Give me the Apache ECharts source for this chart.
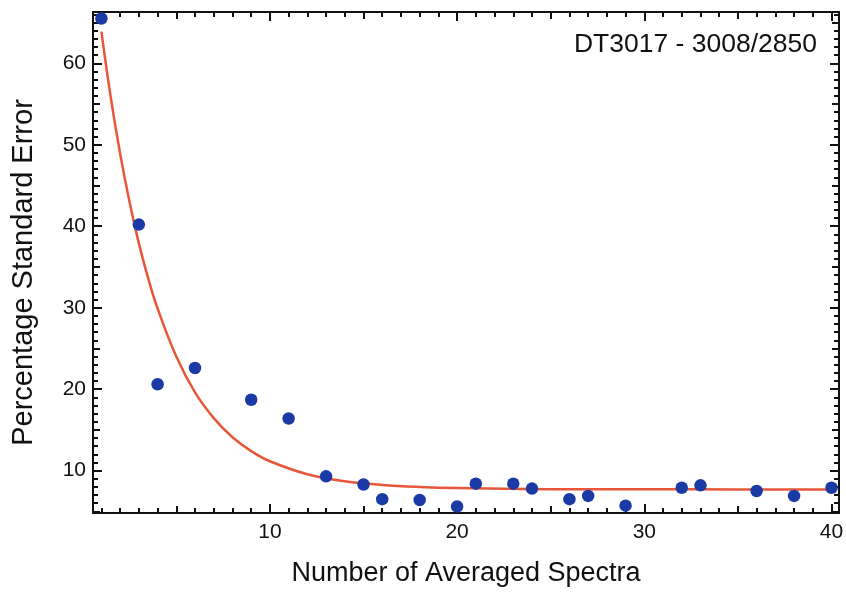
<!DOCTYPE html>
<html><head><meta charset="utf-8">
<script src="https://cdn.jsdelivr.net/npm/echarts@6/dist/echarts.min.js"></script>
<style>html,body{margin:0;padding:0;background:#fff}#c{width:846px;height:592px}</style>
</head><body><div id="c"></div>
<script>
const chartTitle = 'DT3017 - 3008/2850';
const xName = 'Number of Averaged Spectra';
const yName = 'Percentage Standard Error';

// measured points
const spectraCount = [1, 3, 4, 6, 9, 11, 13, 15, 16, 18, 20, 21, 23, 24, 26, 27, 29, 32, 33, 36, 38, 40];
const stdError = [65.5, 40.2, 20.6, 22.6, 18.7, 16.4, 9.3, 8.3, 6.5, 6.4, 5.6, 8.4, 8.4, 7.8, 6.5, 6.9, 5.7, 7.9, 8.2, 7.5, 6.9, 7.9];

// fitted curve
const fitX = [1, 1.5, 2, 2.5, 3, 3.5, 4, 5, 6, 7, 8, 9, 10, 12, 14, 16, 18, 20, 25, 30, 35, 40];
const fitY = [63.9, 55.8, 48.9, 43.0, 37.9, 33.6, 29.9, 24.0, 19.6, 16.45, 14.1, 12.4, 11.15, 9.56, 8.7, 8.24, 7.99, 7.86, 7.73, 7.71, 7.7, 7.7];

// ticks
const xMajorTicks = [10, 20, 30, 40];
const xMidTicks = [5, 15, 25, 35];
const xMinorTicks = [1, 2, 3, 4, 6, 7, 8, 9, 11, 12, 13, 14, 16, 17, 18, 19, 21, 22, 23, 24, 26, 27, 28, 29, 31, 32, 33, 34, 36, 37, 38, 39];
const yMajorTicks = [10, 20, 30, 40, 50, 60];
const yMidTicks = [5, 15, 25, 35, 45, 55, 65];
const yMinorTicks = [6, 7, 8, 9, 11, 12, 13, 14, 16, 17, 18, 19, 21, 22, 23, 24, 26, 27, 28, 29, 31, 32, 33, 34, 36, 37, 38, 39, 41, 42, 43, 44, 46, 47, 48, 49, 51, 52, 53, 54, 56, 57, 58, 59, 61, 62, 63, 64, 66];

const X_MIN = 0.55, X_MAX = 40.4, Y_MIN = 4.8, Y_MAX = 66.3;
const FONT = "'Liberation Sans', Arial, Helvetica, sans-serif";
const INK = '#111';

const gridRect = { left: 93, right: 7, top: 12, bottom: 79, outerBoundsMode: 'none', containLabel: false };
const tickSets = [
  { x: xMajorTicks, y: yMajorTicks, len: 9 },
  { x: xMidTicks, y: yMidTicks, len: 7 },
  { x: xMinorTicks, y: yMinorTicks, len: 5 }
];

const grids = [], xAxes = [], yAxes = [];
tickSets.forEach((ts, g) => {
  grids.push(Object.assign({}, gridRect));
  ['bottom', 'top'].forEach(pos => {
    const main = g === 0 && pos === 'bottom';
    xAxes.push({
      type: 'value', gridIndex: g, position: pos, min: X_MIN, max: X_MAX,
      splitLine: { show: false },
      axisLine: { show: g === 0, onZero: false, lineStyle: { color: INK, width: 2 } },
      axisTick: { show: true, inside: true, length: ts.len, customValues: ts.x, lineStyle: { color: INK, width: 2 } },
      axisLabel: main ? { show: true, customValues: xMajorTicks, fontSize: 21, color: INK, fontFamily: FONT, margin: 9 } : { show: false },
      name: main ? xName : '', nameLocation: 'middle', nameGap: 47,
      nameTextStyle: { fontSize: 27, color: INK, fontFamily: FONT }
    });
  });
  ['left', 'right'].forEach(pos => {
    const main = g === 0 && pos === 'left';
    yAxes.push({
      type: 'value', gridIndex: g, position: pos, min: Y_MIN, max: Y_MAX,
      splitLine: { show: false },
      axisLine: { show: g === 0, onZero: false, lineStyle: { color: INK, width: 2 } },
      axisTick: { show: true, inside: true, length: ts.len, customValues: ts.y, lineStyle: { color: INK, width: 2 } },
      axisLabel: main ? { show: true, customValues: yMajorTicks, fontSize: 21, color: INK, fontFamily: FONT, margin: 7 } : { show: false },
      name: main ? yName : '', nameLocation: 'middle', nameGap: 55,
      nameTextStyle: { fontSize: 29, color: INK, fontFamily: FONT, padding: [0, 20, 0, 0] }
    });
  });
});

const chart = echarts.init(document.getElementById('c'), null, { renderer: 'canvas' });
chart.setOption({
  animation: false,
  backgroundColor: '#fff',
  title: {
    text: chartTitle, right: 29, top: 31, padding: 0,
    textStyle: { fontSize: 26.5, fontWeight: 'normal', color: INK, fontFamily: FONT }
  },
  grid: grids,
  xAxis: xAxes,
  yAxis: yAxes,
  series: [
    {
      type: 'line', xAxisIndex: 0, yAxisIndex: 0,
      data: fitX.map((x, i) => [x, fitY[i]]),
      showSymbol: false, smooth: 0.4,
      lineStyle: { color: '#e8573a', width: 2.5 }, z: 2
    },
    {
      type: 'scatter', xAxisIndex: 0, yAxisIndex: 0,
      data: spectraCount.map((x, i) => [x, stdError[i]]),
      symbolSize: 12.5, clip: false,
      itemStyle: { color: '#1a3aa6', opacity: 1 }, z: 3
    }
  ]
});
</script>
</body></html>
